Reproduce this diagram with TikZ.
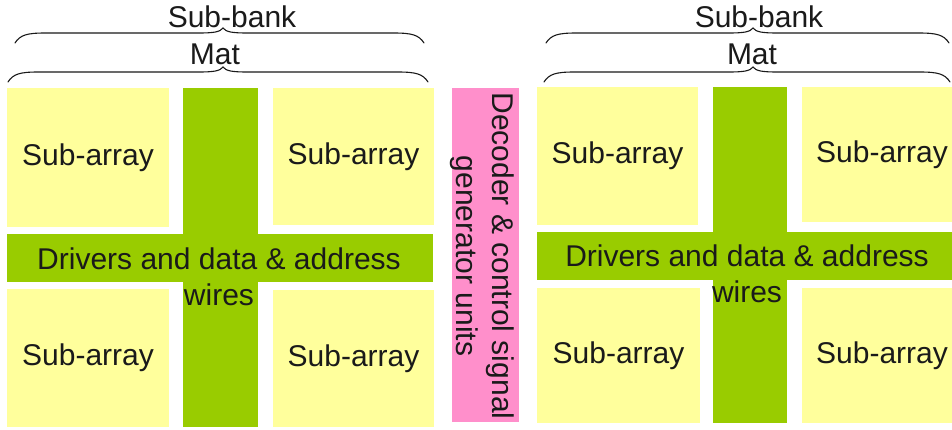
\documentclass[tikz,border=0pt]{standalone}
\usepackage{fontspec}
\setmainfont{Liberation Sans}
\definecolor{subyel}{HTML}{FFFF9C}
\definecolor{wgreen}{HTML}{99CC00}
\definecolor{decpink}{HTML}{FF8FCB}
\definecolor{txtc}{HTML}{1A1A1A}
% #1 left x, #2 right x, #3 tip x, #4 base y
\newcommand{\mybrace}[4]{%
  \draw[bracestyle] (#1,#4) .. controls (#1+5,#4-8) and (#1+12,#4-10) .. (#1+30,#4-10)
    -- (#3-25,#4-10) .. controls (#3-9,#4-10) and (#3-3,#4-11) .. (#3,#4-15)
    .. controls (#3+3,#4-11) and (#3+9,#4-10) .. (#3+25,#4-10)
    -- (#2-30,#4-10) .. controls (#2-12,#4-10) and (#2-5,#4-8) .. (#2,#4);}
\begin{document}
\begin{tikzpicture}[x=1pt,y=-1pt,
  lbl/.style={font=\fontsize{30}{36}\selectfont, text=txtc, inner sep=0pt},
  subarr/.style={lbl, fill=subyel, draw=none},
  bar/.style={fill=wgreen, draw=none, inner sep=0pt},
  bracestyle/.style={draw=txtc, line width=1.1pt, line cap=round}]
\useasboundingbox (0,0) rectangle (952,429);
\clip (0,0) rectangle (952,429);
\fill[white] (0,0) rectangle (952,429);
% ---------------- left mat
\node[bar, minimum width=75pt, minimum height=339pt] (lv) at (220.5,257.5) {};
\node[bar, minimum width=426pt, minimum height=48pt] (lh) at (220,258) {};
\node[subarr, minimum width=162pt, minimum height=139pt] (la1) at (88,157.5) {Sub-array};
\node[subarr, minimum width=161pt, minimum height=137pt] (la2) at (353.5,156.5) {Sub-array};
\node[subarr, minimum width=162pt, minimum height=138pt] (la3) at (88,358) {Sub-array};
\node[subarr, minimum width=161pt, minimum height=137pt] (la4) at (353.5,358.5) {Sub-array};
\node[lbl, align=center] (ltxt) at (219,277) {Drivers and data \& address\\wires};
% ---------------- decoder
\node[fill=decpink, draw=none, inner sep=0pt, minimum width=67pt, minimum height=334pt] (dec) at (485.5,255) {};
\node[lbl, align=center, rotate=-90] (dectxt) at (482,256) {Decoder \& control signal\\generator units};
% ---------------- right mat
\node[bar, minimum width=74pt, minimum height=336pt] (rv) at (750,255) {};
\node[bar, minimum width=425pt, minimum height=48pt] (rh) at (749.5,256) {};
\node[subarr, minimum width=161pt, minimum height=138pt] (ra1) at (617.5,156) {Sub-array};
\node[subarr, minimum width=160pt, minimum height=135pt] (ra2) at (882,154.5) {Sub-array};
\node[subarr, minimum width=163pt, minimum height=135pt] (ra3) at (618.5,355.5) {Sub-array};
\node[subarr, minimum width=160pt, minimum height=135pt] (ra4) at (882,355.5) {Sub-array};
\node[lbl, align=center] (rtxt) at (747,274) {Drivers and data \& address\\wires};
% ---------------- braces
\mybrace{15}{424}{223}{43}
\mybrace{8}{428}{223}{82}
\mybrace{546}{949}{753}{43}
\mybrace{544}{950}{753}{82}
\node[lbl] (lsbt) at (232,17) {Sub-bank};
\node[lbl] (lmt) at (215,54) {Mat};
\node[lbl] (rsbt) at (759,17) {Sub-bank};
\node[lbl] (rmt) at (752,54) {Mat};
\end{tikzpicture}
\end{document}
